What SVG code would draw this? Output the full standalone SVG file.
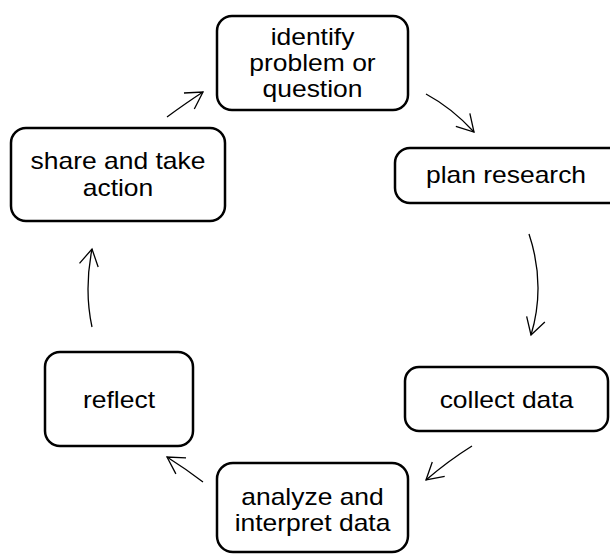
<svg xmlns="http://www.w3.org/2000/svg" width="610" height="555" viewBox="0 0 610 555">
<style>
.box{fill:#fff;stroke:#000;stroke-width:2.5}
.lbl{font-family:"Liberation Sans",Arial,sans-serif;font-size:23px;fill:#000;text-anchor:middle}
.conn{fill:none;stroke:#000;stroke-width:1.3;marker-end:url(#arr)}
</style>
<defs>
<marker id="arr" markerUnits="userSpaceOnUse" viewBox="-20 -12 22 24" refX="0" refY="0" markerWidth="22" markerHeight="24" orient="auto" overflow="visible">
<path d="M-16.5,-9.5 L0,0 L-16.5,9.5" fill="none" stroke="#000" stroke-width="1.3"/>
</marker>
</defs>
<rect width="610" height="555" fill="#fff"/>
<g id="connectors">
<path class="conn" d="M426,94 Q452,108 474,132"/>
<path class="conn" d="M529,234 Q546,285 531,335"/>
<path class="conn" d="M472,446 Q448,461 426,480"/>
<path class="conn" d="M203,482 Q186,469 167,457"/>
<path class="conn" d="M92,327 Q84,290 92,249"/>
<path class="conn" d="M167,117 Q186,103 203,92"/>
</g>
<g id="identify">
<rect class="box" x="217" y="16" width="191" height="94" rx="15"/>
<g transform="translate(312.5 0) scale(1.15 1)">
<text class="lbl" x="0" y="45.5">identify</text>
<text class="lbl" x="0" y="71.5">problem or</text>
<text class="lbl" x="0" y="97.5">question</text>
</g>
</g>
<g id="plan">
<rect class="box" x="395" y="148" width="235" height="55" rx="15"/>
<g transform="translate(506 0) scale(1.15 1)">
<text class="lbl" x="0" y="183.5">plan research</text>
</g>
</g>
<g id="collect">
<rect class="box" x="405" y="367" width="203" height="64" rx="14"/>
<g transform="translate(506.5 0) scale(1.15 1)">
<text class="lbl" x="0" y="408">collect data</text>
</g>
</g>
<g id="analyze">
<rect class="box" x="217" y="463" width="191" height="89" rx="16"/>
<g transform="translate(312.5 0) scale(1.15 1)">
<text class="lbl" x="0" y="505">analyze and</text>
<text class="lbl" x="0" y="531">interpret data</text>
</g>
</g>
<g id="reflect">
<rect class="box" x="45" y="352" width="148" height="94" rx="15"/>
<g transform="translate(119 0) scale(1.15 1)">
<text class="lbl" x="0" y="408">reflect</text>
</g>
</g>
<g id="share">
<rect class="box" x="11" y="128" width="214" height="93" rx="15"/>
<g transform="translate(118 0) scale(1.15 1)">
<text class="lbl" x="0" y="169.5">share and take</text>
<text class="lbl" x="0" y="196">action</text>
</g>
</g>
</svg>
